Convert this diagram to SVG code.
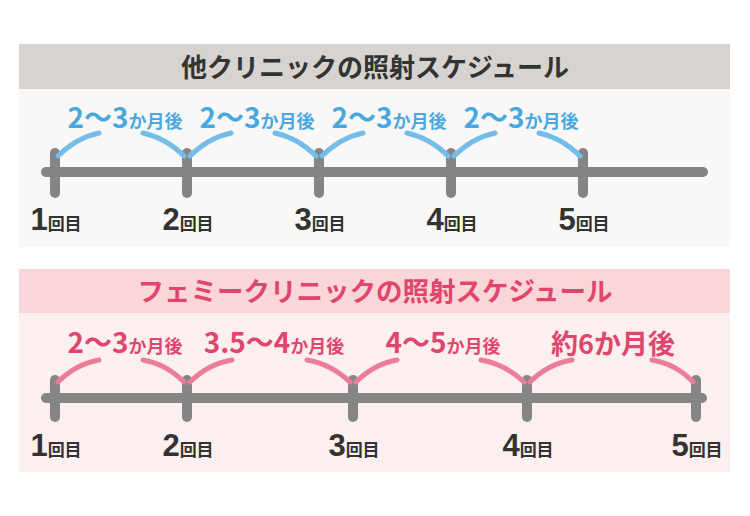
<svg xmlns="http://www.w3.org/2000/svg" width="750" height="516" viewBox="0 0 750 516">
<style>
.jp{font-family:"Noto Sans CJK JP","Noto Sans",sans-serif;font-weight:bold}
.title{text-anchor:middle}
.axis{stroke:#858585;stroke-width:10;stroke-linecap:round;fill:none}
.arcB{stroke:#74bde8;stroke-width:5;stroke-linecap:round;fill:none}
.arcP{stroke:#ec7d98;stroke-width:5;stroke-linecap:round;fill:none}
.lblB{fill:#4aa8e0;text-anchor:middle}
.lblP{fill:#e0466d;text-anchor:middle}
.big{font-size:28px}
.sm{font-size:18px}
.num{fill:#333;text-anchor:middle}
.n{font-size:31px;font-family:"Liberation Sans",sans-serif;font-weight:bold}
.k{font-size:17px}
</style>
<rect width="750" height="516" fill="#ffffff"/>
<g id="panel-other">
<rect x="19" y="44" width="711" height="45" fill="#d6d3d0"/>
<rect x="19" y="89" width="711" height="158" fill="#f9f8f6"/>
<text class="jp title" x="375" y="77" fill="#333" font-size="26">他クリニックの照射スケジュール</text>
</g>
<g id="panel-femi">
<rect x="19" y="269" width="711" height="44" fill="#fbd6d8"/>
<rect x="19" y="313" width="711" height="159" fill="#fcefef"/>
<text class="jp title" x="375" y="301" fill="#e0466d" font-size="26.5">フェミークリニックの照射スケジュール</text>
</g>
<g id="connectors">
<line class="axis" x1="46" y1="172" x2="703" y2="172"/>
<line class="axis" x1="55" y1="153" x2="55" y2="193"/>
<line class="axis" x1="187" y1="153" x2="187" y2="193"/>
<line class="axis" x1="319" y1="153" x2="319" y2="193"/>
<line class="axis" x1="451" y1="153" x2="451" y2="193"/>
<line class="axis" x1="583" y1="153" x2="583" y2="193"/>
<path class="arcB" d="M58,156 Q76,138 99,133 M143,133 Q166,138 184,156"/>
<path class="arcB" d="M190,156 Q208,138 231,133 M275,133 Q298,138 316,156"/>
<path class="arcB" d="M322,156 Q340,138 363,133 M407,133 Q430,138 448,156"/>
<path class="arcB" d="M454,156 Q472,138 495,133 M539,133 Q562,138 580,156"/>
<line class="axis" x1="46" y1="398" x2="702" y2="398"/>
<line class="axis" x1="55" y1="380" x2="55" y2="417"/>
<line class="axis" x1="187" y1="380" x2="187" y2="417"/>
<line class="axis" x1="353" y1="380" x2="353" y2="417"/>
<line class="axis" x1="527" y1="380" x2="527" y2="417"/>
<line class="axis" x1="696" y1="380" x2="696" y2="417"/>
<path class="arcP" d="M58,382 Q76,364 99,360 M143,360 Q166,364 184,382"/>
<path class="arcP" d="M190,382 Q208,364 232,360 M307,360 Q331,364 350,382"/>
<path class="arcP" d="M356,382 Q374,364 397,360 M481,360 Q505,364 524,382"/>
<path class="arcP" d="M530,382 Q548,364 572,360 M652,360 Q676,364 693,382"/>
</g>
<g id="labels-other">
<text class="jp lblB" x="125" y="128"><tspan class="big">2〜3</tspan><tspan class="sm">か月後</tspan></text>
<text class="jp lblB" x="257" y="128"><tspan class="big">2〜3</tspan><tspan class="sm">か月後</tspan></text>
<text class="jp lblB" x="389" y="128"><tspan class="big">2〜3</tspan><tspan class="sm">か月後</tspan></text>
<text class="jp lblB" x="521" y="128"><tspan class="big">2〜3</tspan><tspan class="sm">か月後</tspan></text>
</g>
<g id="labels-femi">
<text class="jp lblP" x="125" y="353"><tspan class="big">2〜3</tspan><tspan class="sm">か月後</tspan></text>
<text class="jp lblP" x="274" y="353"><tspan class="big">3.5〜4</tspan><tspan class="sm">か月後</tspan></text>
<text class="jp lblP" x="443" y="353"><tspan class="big">4〜5</tspan><tspan class="sm">か月後</tspan></text>
<text class="jp lblP" x="613" y="354" font-size="27">約6か月後</text>
</g>
<g id="counts-other">
<text class="jp num" x="56" y="230"><tspan class="n">1</tspan><tspan class="k">回目</tspan></text>
<text class="jp num" x="188" y="230"><tspan class="n">2</tspan><tspan class="k">回目</tspan></text>
<text class="jp num" x="320" y="230"><tspan class="n">3</tspan><tspan class="k">回目</tspan></text>
<text class="jp num" x="452" y="230"><tspan class="n">4</tspan><tspan class="k">回目</tspan></text>
<text class="jp num" x="584" y="230"><tspan class="n">5</tspan><tspan class="k">回目</tspan></text>
</g>
<g id="counts-femi">
<text class="jp num" x="56" y="456"><tspan class="n">1</tspan><tspan class="k">回目</tspan></text>
<text class="jp num" x="188" y="456"><tspan class="n">2</tspan><tspan class="k">回目</tspan></text>
<text class="jp num" x="354" y="456"><tspan class="n">3</tspan><tspan class="k">回目</tspan></text>
<text class="jp num" x="528" y="456"><tspan class="n">4</tspan><tspan class="k">回目</tspan></text>
<text class="jp num" x="697" y="456"><tspan class="n">5</tspan><tspan class="k">回目</tspan></text>
</g>
</svg>
